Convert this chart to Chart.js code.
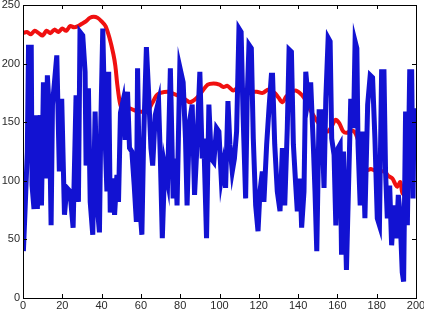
<!DOCTYPE html>
<html>
<head>
<meta charset="utf-8">
<script src="https://cdn.jsdelivr.net/npm/chart.js@4.4.0/dist/chart.umd.min.js"></script>
<style>
  html, body { margin: 0; padding: 0; background: #fff; }
  canvas { display: block; }
</style>
</head>
<body>
<canvas id="plot" width="424" height="313"></canvas>
<script>
"use strict";

// blue series (x, y)
var blueX = [0.2, 1, 2.2, 2.8, 4.2, 4.6, 5.6, 6.6, 7.3, 8.8, 9.4, 10.4, 11.7, 12.4, 13.4, 14.3, 15, 16, 17.2, 18.5,
    19.7, 21.1, 22.3, 23.9, 25.5, 27, 28.2, 29, 30.4, 31.6, 32.1, 33.3, 34.2, 35.5, 36.7, 37.9, 38.9, 39.6, 40.6, 41.8,
    42.7, 43.6, 44.4, 45.7, 46.6, 47.8, 48.6, 49.6, 50.9, 52, 53.2, 54.2, 55.4, 56.6, 57.7, 58.3, 59.4, 60.5, 61.4, 62.8,
    63.9, 65.1, 66, 67.3, 69, 69.9, 70.9, 72.1, 73.6, 75, 76.4, 77.6, 78.4, 79.8, 81.5, 82.7, 83.5, 84.7, 86.1, 87.3,
    88.3, 90, 91.2, 92, 93.4, 94.6, 95.8, 97.1, 98.5, 99.7, 100.9, 101.9, 103.1, 104.3, 105.3, 106.5, 107.6, 108.7, 109.9, 111,
    112, 113.3, 114.1, 115, 116.2, 117.2, 118.4, 119.6, 120.6, 121.8, 122.6, 124, 125.2, 126.4, 127, 128.1, 129.4, 130.8, 132, 133.2,
    134.5, 135.4, 136.6, 137.6, 138.8, 139.6, 141, 141.8, 143, 143.9, 145.1, 146.4, 147.8, 148.6, 149.5, 150.7, 151.9, 153.2, 154.1, 155.3,
    156.3, 157.1, 158.3, 159.2, 160.4, 161.4, 162.1, 163.1, 164.6, 166.8, 168.2, 169, 169.9, 170.5, 171.6, 172.8, 174, 175.4, 176.7, 177.9,
    179.1, 180.3, 181.4, 182.5, 183.7, 184.5, 185.4, 186.6, 187.6, 188.8, 190, 191, 191.8, 193, 193.7, 194.7, 195.6, 196.8, 197.8, 198.5, 199];
var blueY = [40, 73, 125, 214, 214, 96, 76, 156, 76, 156, 79, 184, 102, 190, 159, 62, 165, 184, 207, 108,
    170, 71, 94, 91, 60, 173, 82, 227, 224, 193, 113, 179, 82, 54, 159, 76, 56, 148, 230, 136,
    91, 193, 73, 102, 71, 105, 82, 158, 168, 135, 176, 128, 125, 96, 65, 196, 79, 54, 136, 214,
    176, 128, 113, 156, 168, 119, 51, 113, 99, 196, 85, 119, 79, 197, 184, 136, 79, 150, 165, 88,
    122, 193, 119, 136, 51, 165, 119, 116, 145, 142, 102, 113, 94, 168, 131, 108, 119, 142, 230, 227,
    156, 85, 171, 216, 213, 136, 79, 57, 91, 108, 82, 131, 162, 190, 190, 131, 91, 74, 128, 79,
    145, 212, 210, 131, 96, 74, 102, 60, 91, 193, 170, 184, 128, 91, 40, 159, 159, 94, 170, 222,
    219, 136, 122, 62, 128, 131, 37, 125, 24, 170, 145, 219, 213, 131, 79, 142, 68, 165, 190, 188,
    136, 68, 62, 193, 193, 108, 68, 96, 45, 79, 51, 88, 74, 22, 14, 159, 62, 193, 193, 85, 162];

// red series
var redX = [0, 2, 4, 6, 8, 10, 12, 14, 16, 18, 20, 22, 24, 26, 28, 30, 32, 34, 36, 38,
    40, 42, 44, 46, 47, 48, 49.5, 51, 54, 57, 60, 63, 66, 68, 70, 74, 77, 80, 83, 85,
    88, 91, 94, 97, 100, 102, 104, 107, 110, 114, 119, 122, 125, 128, 130, 132, 134, 137, 139, 142,
    144, 147, 150, 153, 155, 157, 159, 161, 163, 165, 167, 169, 171, 173, 175, 177, 180, 182, 184, 186,
    188, 189.5, 190.5, 192, 193, 194.5];
var redY = [226, 227, 225, 228, 226, 224, 228, 226, 229, 227, 230, 228, 232, 231, 232, 234, 236, 239, 240, 239,
    236, 232, 222, 208, 198, 182, 165, 161, 162, 160, 159, 159, 167, 173, 175, 176, 174, 172, 169, 167,
    170, 176, 182, 183, 182, 180, 181, 177, 180, 176, 176, 175, 178, 175, 171, 167, 172, 176, 177, 173,
    168, 158, 150, 144, 142, 146, 152, 149, 142, 141, 143, 141, 132, 118, 109, 110, 108, 108, 108, 104,
    102, 97, 95, 99, 90, 87];

var xTicks = [0, 20, 40, 60, 80, 100, 120, 140, 160, 180, 200];
var yTicks = [0, 50, 100, 150, 200, 250];

function toPoints(xs, ys) {
    return xs.map(function (x, i) {
        return { x: x, y: ys[i] };
    });
}

// MATLAB-like box with inward tick marks
var boxPlugin = {
    id: 'box',
    afterDatasetsDraw: function (chart) {
        var ctx = chart.ctx;
        var a = chart.chartArea;
        var xs = chart.scales.x;
        var ys = chart.scales.y;
        var len = 4;
        ctx.save();
        ctx.strokeStyle = '#000';
        ctx.lineWidth = 1;
        ctx.beginPath();
        xTicks.forEach(function (t) {
            var px = Math.round(xs.getPixelForValue(t)) + 0.5;
            ctx.moveTo(px, a.bottom);
            ctx.lineTo(px, a.bottom - len);
            ctx.moveTo(px, a.top);
            ctx.lineTo(px, a.top + len);
        });
        yTicks.forEach(function (t) {
            var py = Math.round(ys.getPixelForValue(t)) + 0.5;
            ctx.moveTo(a.left, py);
            ctx.lineTo(a.left + len, py);
            ctx.moveTo(a.right, py);
            ctx.lineTo(a.right - len, py);
        });
        ctx.stroke();
        ctx.strokeRect(Math.round(a.left) + 0.5, Math.round(a.top) + 0.5,
            Math.round(a.right - a.left), Math.round(a.bottom - a.top));
        ctx.restore();
    }
};

new Chart(document.getElementById('plot'), {
    type: 'scatter',
    data: {
        datasets: [{
            data: toPoints(blueX, blueY),
            showLine: true,
            borderColor: '#1212d2',
            borderWidth: 5,
            pointRadius: 0,
            tension: 0,
            order: 0
        }, {
            data: toPoints(redX, redY),
            showLine: true,
            borderColor: '#f01010',
            borderWidth: 4,
            pointRadius: 0,
            tension: 0.3,
            order: 1
        }]
    },
    options: {
        responsive: false,
        devicePixelRatio: 1,
        animation: false,
        layout: { padding: { left: 0, top: 5, right: 8, bottom: 0 } },
        plugins: {
            legend: { display: false },
            tooltip: { enabled: false }
        },
        scales: {
            x: {
                type: 'linear',
                min: 0,
                max: 200,
                grid: { display: false, drawTicks: false },
                border: { display: false },
                afterBuildTicks: function (scale) {
                    scale.ticks = xTicks.map(function (v) { return { value: v }; });
                },
                afterFit: function (scale) {
                    scale.height = 15;
                    scale.paddingLeft = 0;
                    scale.paddingRight = 0;
                },
                ticks: {
                    padding: 1,
                    maxRotation: 0,
                    autoSkip: false,
                    color: '#2a2a2a',
                    font: { family: 'Liberation Sans, Arial', size: 11 }
                }
            },
            y: {
                type: 'linear',
                min: 0,
                max: 250,
                grid: { display: false, drawTicks: false },
                border: { display: false },
                afterBuildTicks: function (scale) {
                    scale.ticks = yTicks.map(function (v) { return { value: v }; });
                },
                afterFit: function (scale) {
                    scale.width = 23;
                    scale.paddingTop = 0;
                    scale.paddingBottom = 0;
                },
                ticks: {
                    padding: 3,
                    autoSkip: false,
                    color: '#2a2a2a',
                    font: { family: 'Liberation Sans, Arial', size: 11 }
                }
            }
        }
    },
    plugins: [boxPlugin]
});
</script>
</body>
</html>
